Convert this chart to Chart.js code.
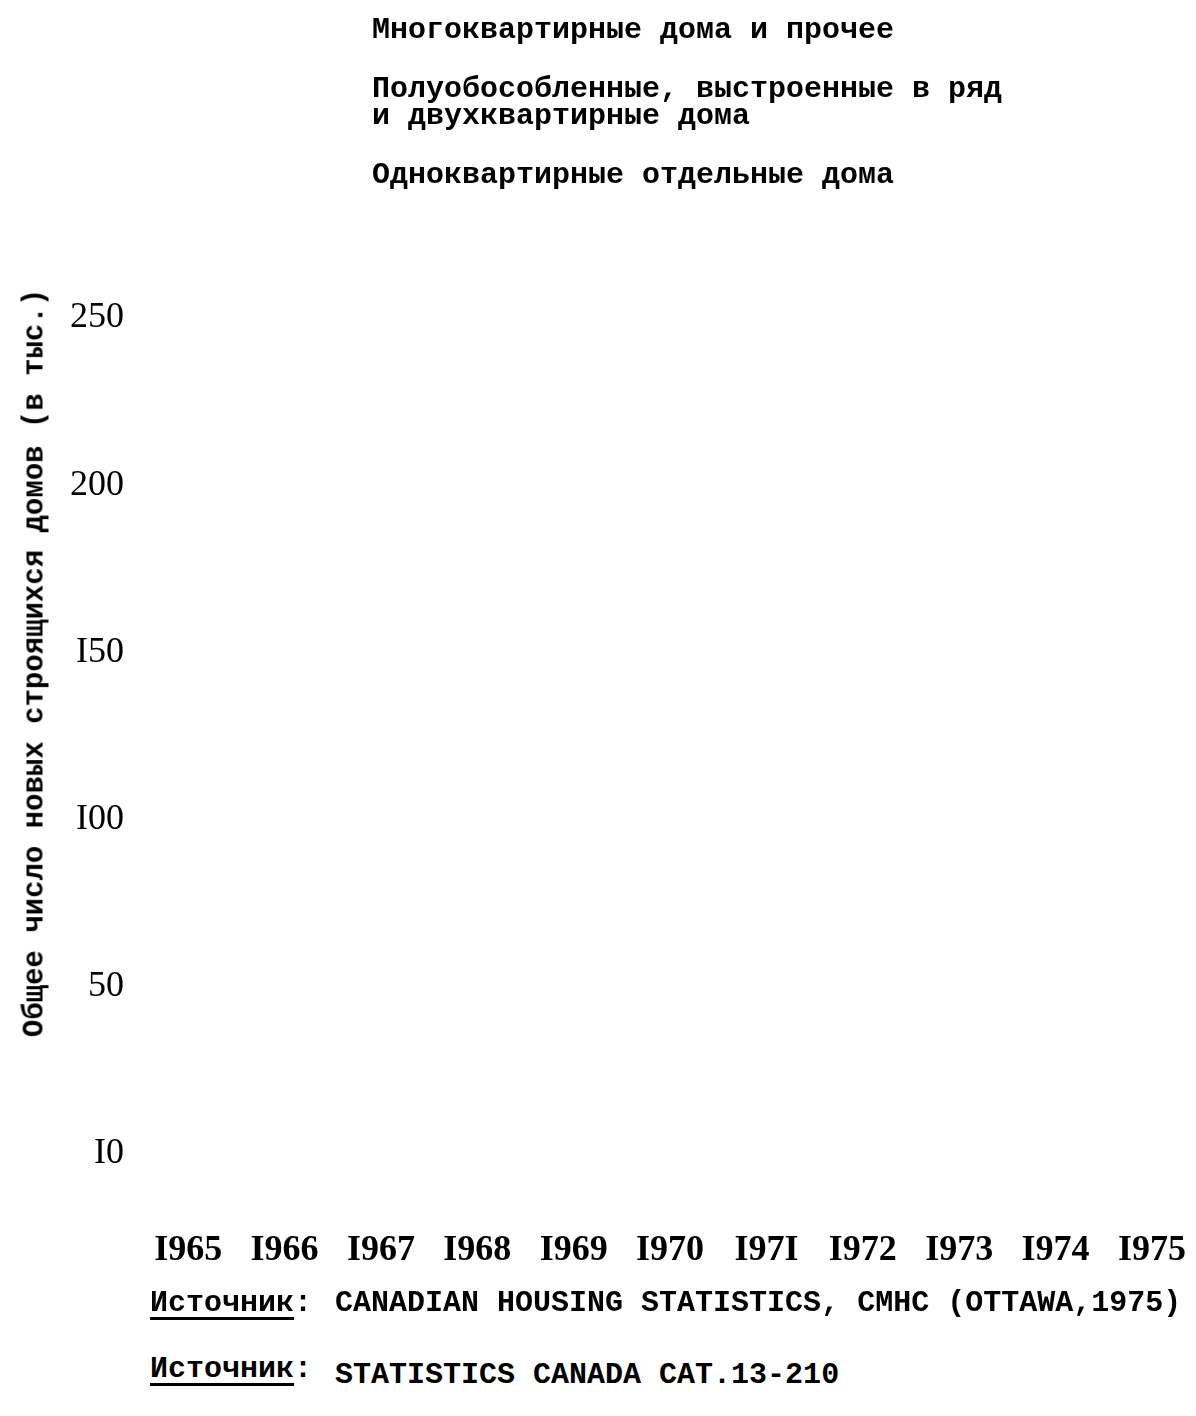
<!DOCTYPE html>
<html>
<head>
<meta charset="utf-8">
<script src="https://cdn.jsdelivr.net/npm/chart.js@4.4.1/dist/chart.umd.min.js"></script>
<style>
  body { margin: 0; background: #fff; width: 1196px; height: 1416px; position: relative; overflow: hidden; }
  #housingChart { position: absolute; left: 0; top: 0; }
  .mono { font-family: "Liberation Mono", "DejaVu Sans Mono", monospace; font-weight: bold; color: #000; font-size: 30px; }
  #legend { position: absolute; left: 372px; top: 17px; }
  #legend div { white-space: pre-line; line-height: 27px; margin-bottom: 32px; }
  #ytitle { position: absolute; left: 35px; top: 663px; transform: translate(-50%, -50%) rotate(-90deg); white-space: nowrap; font-size: 29px; }
  .src { position: absolute; left: 150px; white-space: pre; }
  .src u { text-decoration-thickness: 3px; text-underline-offset: 6px; }
  .src span { position: relative; margin-left: 5px; }
</style>
</head>
<body>
<canvas id="housingChart" width="1261" height="1347"></canvas>
<div id="legend" class="mono"></div>
<div id="ytitle" class="mono">Общее число новых строящихся домов (в тыс.)</div>
<div class="src mono" style="top:1286px"><u>Источник</u>: <span>CANADIAN HOUSING STATISTICS, CMHC (OTTAWA,1975)</span></div>
<div class="src mono" style="top:1352px"><u>Источник</u>: <span style="top:6px">STATISTICS CANADA CAT.13-210</span></div>

<script>
// years as typed on the original (typewriter "I" for 1)
const years = ['I965', 'I966', 'I967', 'I968', 'I969', 'I970', 'I97I', 'I972', 'I973', 'I974', 'I975'];

const seriesLabels = [
  'Многоквартирные дома и прочее',
  'Полуобособленные, выстроенные в ряд\nи двухквартирные дома',
  'Одноквартирные отдельные дома'
];

// no bars are visible in the reference, so every value is empty
const apartments = [null, null, null, null, null, null, null, null, null, null, null];
const semiDetached = [null, null, null, null, null, null, null, null, null, null, null];
const singleDetached = [null, null, null, null, null, null, null, null, null, null, null];

const yTickValues = [0, 50, 100, 150, 200, 250];
const yTickLabels = ['I0', '50', 'I00', 'I50', '200', '250'];

document.addEventListener('DOMContentLoaded', () => {
  const ctx = document.getElementById('housingChart').getContext('2d');

  const chart = new Chart(ctx, {
    type: 'bar',
    data: {
      labels: years,
      datasets: [
        { label: seriesLabels[0], data: apartments, backgroundColor: '#000' },
        { label: seriesLabels[1], data: semiDetached, backgroundColor: '#777' },
        { label: seriesLabels[2], data: singleDetached, backgroundColor: '#ccc' }
      ]
    },
    options: {
      responsive: false,
      animation: false,
      devicePixelRatio: 1,
      layout: { padding: { top: 318, left: 54, right: 0, bottom: 0 } },
      plugins: {
        legend: { display: false },
        tooltip: { enabled: false }
      },
      scales: {
        x: {
          stacked: true,
          grid: { display: false, drawTicks: false },
          border: { display: false },
          ticks: {
            color: '#000',
            padding: 75,
            autoSkip: false,
            maxRotation: 0,
            font: { family: 'Liberation Serif', size: 36, weight: 'bold' }
          }
        },
        y: {
          stacked: true,
          min: 0,
          max: 250,
          grid: { display: false, drawTicks: false },
          border: { display: false },
          afterBuildTicks: axis => {
            axis.ticks = yTickValues.map(v => ({ value: v }));
          },
          ticks: {
            color: '#000',
            padding: 16,
            font: { family: 'Liberation Serif', size: 36 },
            callback: value => yTickLabels[yTickValues.indexOf(value)]
          }
        }
      }
    }
  });

  // legend as plain text lines, taken from the dataset labels
  const legend = document.getElementById('legend');
  chart.data.datasets.forEach(ds => {
    const item = document.createElement('div');
    item.textContent = ds.label;
    legend.appendChild(item);
  });
});
</script>
</body>
</html>
